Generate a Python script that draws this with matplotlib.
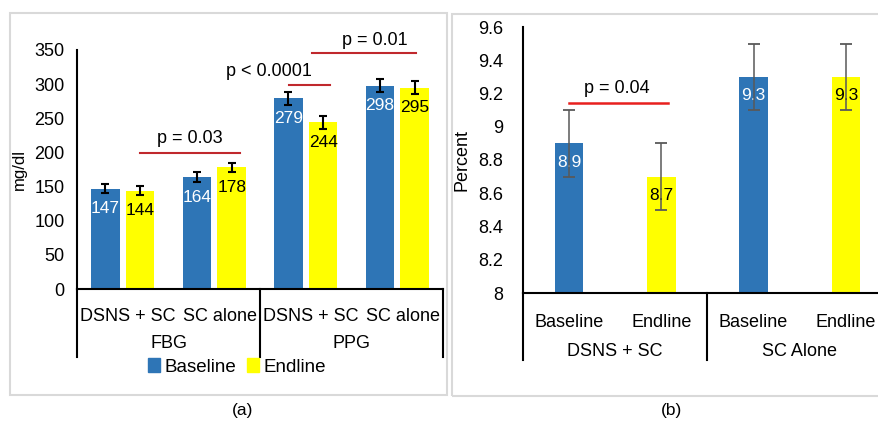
import numpy as np
import matplotlib
matplotlib.use('Agg')
import matplotlib.pyplot as plt
from matplotlib.patches import Rectangle, Patch
from matplotlib.lines import Line2D

plt.rcParams['font.family'] = ['Liberation Sans', 'DejaVu Sans']

# panel (a) data
sub_a = ['DSNS + SC', 'SC alone', 'DSNS + SC', 'SC alone']
groups_a = ['FBG', 'PPG']
base_a = [147, 164, 279, 298]
end_a = [144, 178, 244, 295]
base_a_err = [7, 7, 10, 9]
end_a_err = [7, 7, 9, 9]

# panel (b) data
sub_b = ['Baseline', 'Endline', 'Baseline', 'Endline']
groups_b = ['DSNS + SC', 'SC Alone']
vals_b = [8.9, 8.7, 9.3, 9.3]
err_b = [0.2, 0.2, 0.2, 0.2]

blue = '#2e75b6'
yellow = '#ffff00'
W, H = 879, 422
fs = 13

fig = plt.figure(figsize=(W / 100, H / 100), dpi=100)

def fr(x0, y0, x1, y1):
    # pixel box (top-left origin) -> figure fraction rect
    return [x0 / W, 1 - y1 / H, (x1 - x0) / W, (y1 - y0) / H]

# panel frames
fig.patches.append(Rectangle((10 / W, 1 - 395 / H), 437 / W, 382 / H, transform=fig.transFigure,
                             fill=False, ec='#d9d9d9', lw=1.5))
fig.patches.append(Rectangle((452 / W, 1 - 396 / H), 440 / W, 382 / H, transform=fig.transFigure,
                             fill=False, ec='#d9d9d9', lw=1.5))

####################################
# panel (a)
####################################
ax = fig.add_axes(fr(77, 50, 443, 289))
x = np.arange(len(base_a))
off, bw = 0.19, 0.31
ax.bar(x - off, base_a, bw, color=blue, zorder=2)
ax.bar(x + off, end_a, bw, color=yellow, zorder=2)
ax.errorbar(x - off, base_a, yerr=base_a_err, fmt='none', ecolor='black', elinewidth=1.5,
            capsize=3, capthick=1.5, zorder=4)
ax.errorbar(x + off, end_a, yerr=end_a_err, fmt='none', ecolor='black', elinewidth=1.5,
            capsize=3, capthick=1.5, zorder=4)
for xi, v in zip(x - off, base_a):
    ax.annotate(str(v), (xi, v), xytext=(0, -14.5), textcoords='offset points',
                ha='center', va='center', color='white', fontsize=12.5, zorder=3)
for xi, v in zip(x + off, end_a):
    ax.annotate(str(v), (xi, v), xytext=(0, -14.5), textcoords='offset points',
                ha='center', va='center', color='black', fontsize=12.5, zorder=3)

ax.set_xlim(-0.5, 3.5)
ax.set_ylim(0, 350)
ax.set_yticks(np.arange(0, 351, 50))
ax.tick_params(axis='y', length=0, pad=9, labelsize=fs)
ax.set_xticks(x + 0.06)
ax.set_xticklabels(sub_a)
ax.tick_params(axis='x', length=0, pad=14, labelsize=fs)
ax.set_ylabel('mg/dl', fontsize=12, labelpad=5)
for s in ['top', 'right']:
    ax.spines[s].set_visible(False)
ax.spines['left'].set_linewidth(1.5)
ax.spines['bottom'].set_linewidth(1.5)

dh = 68 / 239
for xs in [0, 0.5, 1]:
    ax.add_line(Line2D([xs, xs], [0, -dh], transform=ax.transAxes, color='black', lw=1.5, clip_on=False))
for i, g in enumerate(groups_a):
    ax.text(0.25 + 0.5 * i, -55 / 239, g, transform=ax.transAxes, ha='center', va='center', fontsize=fs)

# significance lines
red_a = '#c0282d'
ax.plot([0.19, 1.28], [199, 199], color=red_a, lw=1.5, clip_on=False)
ax.text(0.73, 221, 'p = 0.03', ha='center', va='center', fontsize=fs)
ax.plot([1.82, 2.26], [299, 299], color=red_a, lw=1.5, clip_on=False)
ax.text(1.6, 319, 'p < 0.0001', ha='center', va='center', fontsize=fs)
ax.plot([2.07, 3.2], [345, 345], color=red_a, lw=1.5, clip_on=False)
ax.text(2.75, 364, 'p = 0.01', ha='center', va='center', fontsize=fs, clip_on=False)

fig.legend(handles=[Patch(color=blue, label='Baseline'), Patch(color=yellow, label='Endline')],
           loc='center', bbox_to_anchor=(237 / W, 1 - 367 / H), ncol=2, frameon=False,
           fontsize=13.5, handlelength=0.65, handleheight=0.7, handletextpad=0.2, columnspacing=0.6)
fig.text(243 / W, 1 - 410 / H, '(a)', ha='center', va='center', fontsize=12.5)

####################################
# panel (b)
####################################
bx = fig.add_axes(fr(523, 27, 892, 293))
xb = np.arange(len(vals_b))
bx.bar(xb, vals_b, 0.31, color=[blue, yellow, blue, yellow], zorder=2)
bx.errorbar(xb, vals_b, yerr=err_b, fmt='none', ecolor='#595959', elinewidth=1.1,
            capsize=4, capthick=1.3, zorder=4)
for xi, v, c in zip(xb, vals_b, ['white', 'black', 'white', 'black']):
    bx.annotate(str(v), (xi, v), xytext=(0, -13.5), textcoords='offset points',
                ha='center', va='center', color=c, fontsize=12.5, zorder=3)

bx.set_xlim(-0.5, 3.5)
bx.set_ylim(8, 9.6)
yt = [8, 8.2, 8.4, 8.6, 8.8, 9, 9.2, 9.4, 9.6]
bx.set_yticks(yt)
bx.set_yticklabels([f'{t:g}' for t in yt])
bx.tick_params(axis='y', length=0, pad=14, labelsize=fs)
bx.set_xticks(xb)
bx.set_xticklabels(sub_b)
bx.tick_params(axis='x', length=0, pad=15, labelsize=fs)
bx.set_ylabel('Percent', fontsize=13, labelpad=6)
for s in ['top', 'right']:
    bx.spines[s].set_visible(False)
bx.spines['left'].set_linewidth(1.5)
bx.spines['bottom'].set_linewidth(1.5)

dh = 67 / 266
for xs in [0, 0.5, 1]:
    bx.add_line(Line2D([xs, xs], [0, -dh], transform=bx.transAxes, color='black', lw=1.5, clip_on=False))
for i, g in enumerate(groups_b):
    bx.text(0.25 + 0.5 * i, -58 / 266, g, transform=bx.transAxes, ha='center', va='center', fontsize=fs)

bx.plot([0.0, 1.07], [9.14, 9.14], color='#e8201e', lw=1.8)
bx.text(0.52, 9.23, 'p = 0.04', ha='center', va='center', fontsize=fs)

fig.text(672 / W, 1 - 410 / H, '(b)', ha='center', va='center', fontsize=12.5)

fig.savefig('out.png', dpi=100)
